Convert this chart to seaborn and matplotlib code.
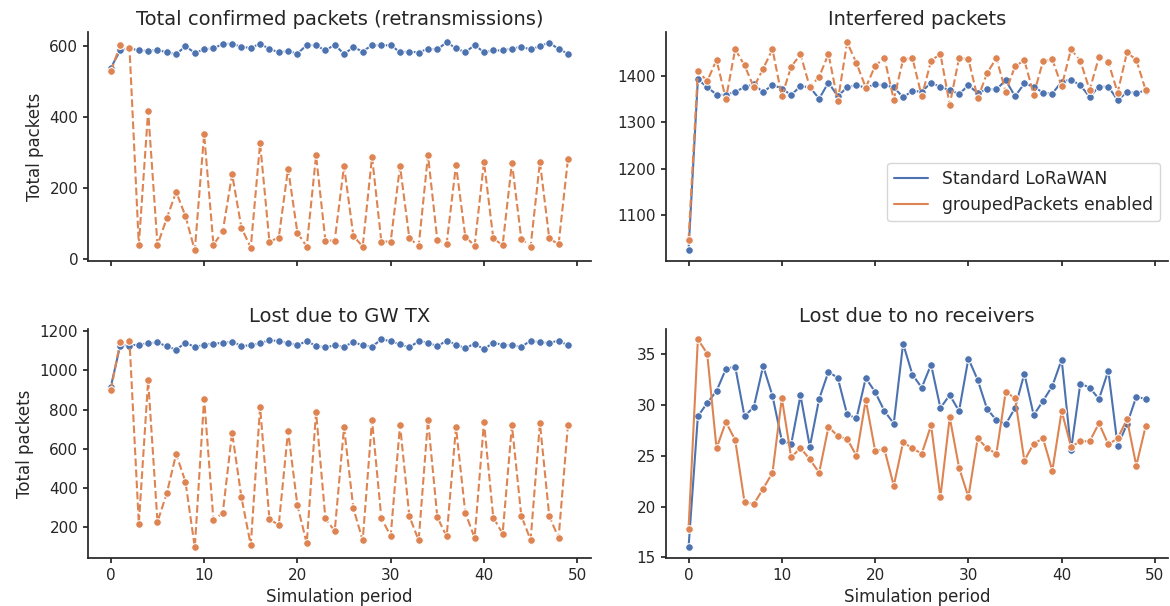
import numpy as np
import pandas as pd
import matplotlib
matplotlib.use("Agg")
import matplotlib.pyplot as plt
from matplotlib.lines import Line2D
import seaborn as sns

periods = list(range(50))

titles = ["Total confirmed packets (retransmissions)", "Interfered packets",
          "Lost due to GW TX", "Lost due to no receivers"]
series_names = ["Standard LoRaWAN", "groupedPackets enabled"]

confirmed_std = [538, 587, 593, 587, 586, 588, 582, 576, 599, 580,
                 590, 593, 605, 606, 597, 594, 606, 591, 582, 585,
                 578, 602, 601, 587, 603, 577, 596, 584, 602, 601,
                 602, 582, 584, 581, 592, 590, 610, 593, 582, 602,
                 582, 587, 587, 592, 597, 590, 599, 609, 591, 578]
confirmed_grp = [529, 601, 594, 39, 417, 38, 114, 188, 120, 23,
                 351, 39, 77, 238, 87, 31, 325, 48, 59, 254,
                 73, 34, 291, 51, 51, 261, 64, 34, 287, 48,
                 48, 261, 58, 35, 292, 52, 42, 264, 62, 36,
                 273, 57, 38, 270, 56, 34, 273, 57, 40, 280]

interfered_std = [1023, 1393, 1376, 1360, 1359, 1366, 1376, 1382, 1365, 1381,
                  1373, 1359, 1378, 1376, 1351, 1386, 1356, 1376, 1380, 1375,
                  1382, 1380, 1376, 1354, 1368, 1366, 1386, 1376, 1370, 1361,
                  1380, 1363, 1372, 1371, 1391, 1356, 1384, 1377, 1364, 1362,
                  1388, 1392, 1380, 1355, 1377, 1377, 1348, 1365, 1364, 1368]
interfered_grp = [1045, 1411, 1389, 1435, 1350, 1458, 1423, 1376, 1416, 1458,
                  1356, 1420, 1447, 1376, 1398, 1448, 1346, 1473, 1428, 1375,
                  1422, 1439, 1349, 1436, 1439, 1356, 1433, 1448, 1338, 1439,
                  1437, 1352, 1406, 1439, 1366, 1421, 1434, 1360, 1432, 1436,
                  1378, 1458, 1433, 1370, 1441, 1430, 1364, 1451, 1435, 1370]

gwtx_std = [917, 1126, 1126, 1131, 1137, 1142, 1122, 1105, 1140, 1119,
            1129, 1136, 1139, 1146, 1124, 1127, 1137, 1154, 1148, 1139,
            1127, 1149, 1124, 1117, 1127, 1120, 1144, 1127, 1120, 1158,
            1148, 1132, 1117, 1148, 1141, 1122, 1151, 1131, 1112, 1136,
            1107, 1141, 1129, 1127, 1119, 1151, 1142, 1139, 1151, 1127]
gwtx_grp = [898, 1144, 1151, 218, 949, 228, 374, 574, 432, 98,
            856, 237, 274, 683, 353, 110, 812, 242, 212, 691,
            312, 119, 786, 246, 181, 709, 297, 134, 747, 247,
            156, 722, 257, 134, 747, 252, 154, 710, 274, 147,
            736, 250, 168, 720, 259, 136, 730, 257, 146, 720]

norecv_std = [15.98, 28.88, 30.19, 31.37, 33.53, 33.77, 28.88, 29.80, 33.83, 30.88,
              26.49, 26.12, 30.94, 25.89, 30.58, 33.27, 32.65, 29.07, 28.68, 32.65,
              31.27, 29.40, 28.16, 36.03, 32.98, 31.70, 33.97, 29.70, 30.97, 29.40,
              34.56, 32.45, 29.60, 28.51, 28.09, 29.70, 33.08, 29.00, 30.39, 31.86,
              34.46, 25.53, 32.10, 31.70, 30.58, 33.37, 25.99, 28.09, 30.81, 30.58]
norecv_grp = [17.79, 36.46, 35.05, 25.73, 28.32, 26.55, 20.44, 20.25, 21.76, 23.33,
              30.68, 24.84, 25.76, 24.65, 23.33, 27.83, 26.94, 26.65, 25.00, 30.48,
              25.50, 25.63, 22.05, 26.32, 25.73, 25.20, 27.99, 20.94, 28.78, 23.83,
              20.94, 26.71, 25.73, 25.20, 31.27, 30.68, 24.52, 26.19, 26.71, 23.53,
              29.40, 25.89, 26.42, 26.42, 28.19, 26.12, 26.71, 28.58, 24.03, 27.89]

panels = [(confirmed_std, confirmed_grp), (interfered_std, interfered_grp),
          (gwtx_std, gwtx_grp), (norecv_std, norecv_grp)]
grp_styles = ["--", "--", "--", "-"]

sns.set_theme(style="ticks", context="notebook",
              rc={"xtick.major.size": 3.5, "ytick.major.size": 3.5,
                  "axes.titlesize": 14, "legend.fontsize": 12.3})
pal = sns.color_palette("deep")
c_std, c_grp = pal[0], pal[1]

fig, axes = plt.subplots(2, 2, figsize=(11.7, 6.06), dpi=100, sharex=True)
fig.subplots_adjust(left=0.0752, right=0.9987, bottom=0.0795, top=0.9474,
                    wspace=0.149, hspace=0.297)

for i, ax in enumerate(axes.flat):
    std, grp = panels[i]
    df = pd.DataFrame({"period": periods, "std": std, "grp": grp})
    sns.lineplot(data=df, x="period", y="std", ax=ax, color=c_std,
                 marker="o", markersize=5.5, linestyle="-")
    sns.lineplot(data=df, x="period", y="grp", ax=ax, color=c_grp,
                 marker="o", markersize=5.5, linestyle=grp_styles[i])
    ax.set_title(titles[i], pad=5)
    ax.set_xticks([0, 10, 20, 30, 40, 50])
    if i in (0, 2):
        ax.set_ylabel("Total packets")
    else:
        ax.set_ylabel("")
    if i in (2, 3):
        ax.set_xlabel("Simulation period", labelpad=4)
    else:
        ax.set_xlabel("")

axes[0, 0].set_yticks([0, 200, 400, 600])
axes[0, 1].set_yticks([1100, 1200, 1300, 1400])
axes[1, 0].set_yticks([200, 400, 600, 800, 1000, 1200])
axes[1, 1].set_yticks([15, 20, 25, 30, 35])

handles = [Line2D([0], [0], color=c_std, lw=1.5),
           Line2D([0], [0], color=c_grp, lw=1.5)]
axes[0, 1].legend(handles, series_names, loc="center right",
                  bbox_to_anchor=(1.0, 0.30))

sns.despine(fig=fig)
fig.savefig("out.png", dpi=100)
